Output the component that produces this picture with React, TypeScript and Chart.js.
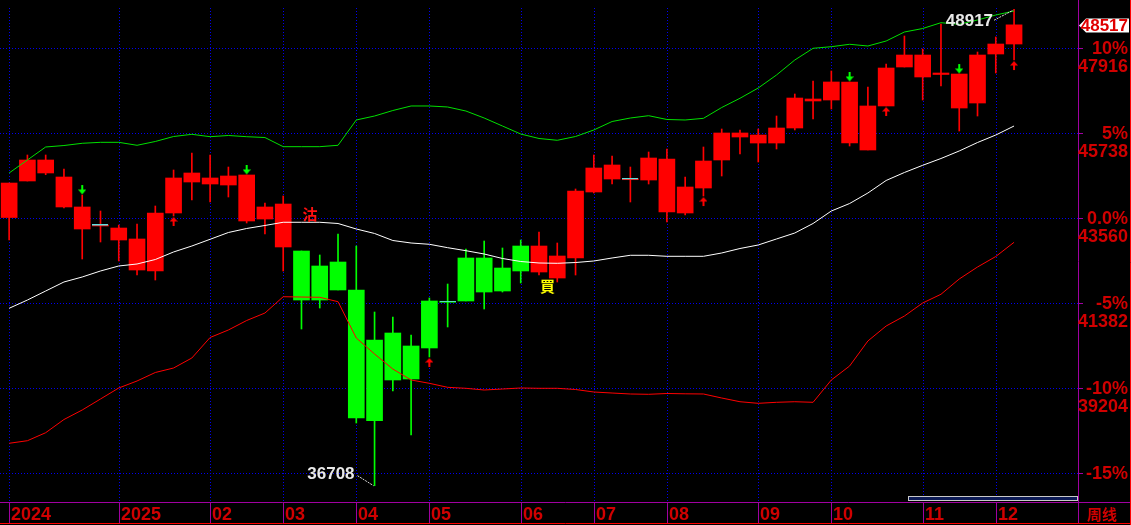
import React, { useEffect, useRef } from 'react';
import { Chart, registerables } from 'chart.js';

Chart.register(...registerables);

// ---- data (weekly candles) ----
const weeks = [
  '2024-11-18', '2024-11-25', '2024-12-02', '2024-12-09', '2024-12-16', '2024-12-23', '2024-12-30',
  '2025-01-06', '2025-01-13', '2025-01-20', '2025-01-27', '2025-02-03', '2025-02-10', '2025-02-17',
  '2025-02-24', '2025-03-03', '2025-03-10', '2025-03-17', '2025-03-24', '2025-03-31', '2025-04-07',
  '2025-04-14', '2025-04-21', '2025-04-28', '2025-05-05', '2025-05-12', '2025-05-19', '2025-05-26',
  '2025-06-02', '2025-06-09', '2025-06-16', '2025-06-23', '2025-06-30', '2025-07-07', '2025-07-14',
  '2025-07-21', '2025-07-28', '2025-08-04', '2025-08-11', '2025-08-18', '2025-08-25', '2025-09-01',
  '2025-09-08', '2025-09-15', '2025-09-22', '2025-09-29', '2025-10-06', '2025-10-13', '2025-10-20',
  '2025-10-27', '2025-11-03', '2025-11-10', '2025-11-17', '2025-11-24', '2025-12-01', '2025-12-08',
  '2025-12-15', '2025-12-22', '2025-12-29',
];

const opens = [
  43580, 44516, 44721, 43850, 43286, 43363, 43004, 42235, 42210, 43696,
  44490, 44439, 44413, 43491, 43542, 42825, 42722, 42338, 42440, 41723,
  40442, 40621, 40288, 41441, 41415, 42543, 42543, 42286, 42850, 42184,
  42030, 42543, 44234, 44567, 44549, 44541, 43721, 43696, 44336, 45054,
  45643, 45489, 45489, 45874, 46566, 46591, 45489, 45310, 46438, 47437,
  47181, 47245, 46386, 46514, 47770, 48026,
];
const highs = [
  44464, 45182, 45182, 44823, 44157, 43747, 43388, 43414, 43875, 44798,
  45233, 45182, 44874, 44670, 43952, 44131, 42722, 42620, 43158, 42850,
  41159, 41031, 40570, 41518, 41876, 42773, 42978, 42799, 43004, 43209,
  42927, 44311, 45182, 45156, 44874, 45259, 45336, 44618, 45387, 45848,
  45823, 45848, 46181, 46745, 47078, 47334, 47053, 46924, 47514, 48231,
  47898, 48539, 47257, 47821, 48206, 48917,
];
const lows = [
  43004, 44516, 44677, 43824, 42517, 42953, 42466, 42107, 41979, 43619,
  44029, 43978, 44106, 43440, 43158, 42210, 40723, 41261, 41723, 38315,
  36708, 39135, 38007, 40006, 40775, 41441, 41236, 41671, 41902, 42107,
  41928, 42107, 44208, 44439, 43978, 44439, 43465, 43645, 44131, 44644,
  45208, 45003, 45336, 45823, 46104, 46361, 45413, 45310, 46438, 47437,
  46591, 46950, 45797, 46181, 47283, 47616,
];
const closes = [
  44464, 45054, 45054, 44618, 43850, 43363, 43311, 43030, 43696, 44593,
  44721, 44593, 44644, 44670, 43850, 43926, 41466, 41466, 41723, 38443,
  38374, 39417, 39442, 40237, 41408, 41441, 41671, 41697, 42210, 42850,
  42594, 44259, 44849, 44926, 44549, 45105, 45080, 44362, 45028, 45746,
  45746, 45694, 45874, 46642, 46617, 47053, 47053, 46438, 47411, 47744,
  47744, 47283, 47257, 47744, 48026, 48517,
];

// Bollinger bands
const upperBand = [
  44721, 45054, 45387, 45425, 45482, 45507, 45507, 45431, 45528, 45656,
  45712, 45651, 45682, 45651, 45630, 45395, 45395, 45395, 45431, 46079,
  46181, 46322, 46438, 46438, 46412, 46309, 46130, 45925, 45720, 45605,
  45559, 45656, 45823, 46040, 46130, 46189, 46092, 46079, 46122, 46399,
  46635, 46899, 47232, 47616, 47916, 47957, 48019, 47975, 48103, 48334,
  48423, 48572, 48531, 48641, 48769, 48872,
];
const midBand = [
  41254, 41466, 41697, 41928, 42056, 42210, 42338, 42389, 42504, 42697,
  42850, 43022, 43196, 43299, 43376, 43458, 43458, 43458, 43427, 43286,
  43171, 42991, 42927, 42894, 42807, 42730, 42645, 42530, 42453, 42415,
  42407, 42427, 42466, 42543, 42612, 42612, 42586, 42586, 42586, 42671,
  42786, 42876, 43030, 43183, 43427, 43747, 43939, 44208, 44529, 44734,
  44918, 45092, 45285, 45502, 45694, 45925,
];
const lowerBand = [
  37795, 37861, 38066, 38404, 38648, 38930, 39212, 39391, 39609, 39724,
  39980, 40506, 40698, 40941, 41133, 41551, 41543, 41536, 41423, 40493,
  40083, 39698, 39417, 39332, 39229, 39204, 39160, 39186, 39212, 39204,
  39204, 39173, 39109, 39083, 39058, 39050, 39071, 39063, 39058, 38955,
  38860, 38819, 38845, 38860, 38845, 39417, 39775, 40416, 40800, 41056,
  41390, 41613, 42005, 42312, 42581, 42945,
];

// axis ticks
const monthTickWeeks = [0, 6, 11, 15, 19, 23, 28, 32, 36, 41, 45, 50, 54];
const monthTickLabels = ['2024', '2025', '02', '03', '04', '05', '06', '07', '08', '09', '10', '11', '12'];
const gridPrices = [47916, 45738, 43560, 41382, 39204, 37026];
const pctLabels = ['10%', '5%', '0.0%', '-5%', '-10%', '-15%'];
const priceLabels = ['47916', '45738', '43560', '41382', '39204', ''];
const yAxisMin = 36290.5;
const yAxisMax = 49153.7;

// signals
const sellArrowWeeks = [4, 13, 46, 52];
const buyArrowWeeks = [9, 23, 38, 48, 55];
const dojiWeeks = [5, 24, 34];
const lastPrice = 48517;
const periodHighWeek = 55;
const periodHighValue = 48917;
const periodLowWeek = 20;
const periodLowValue = 36708;
const signalTexts = ['沽', '買'];
const signalWeeks = [16, 29];
const signalPrices = [43670, 41812];
const signalColors = ['#ff1010', '#ffff00'];

const RED = '#ff0000';
const GREEN = '#00ff00';
const AXIS_RED = '#d00000';
const PURPLE = '#a000a0';

function makeArrow(color: string, up: boolean) {
  const c = document.createElement('canvas');
  c.width = 8;
  c.height = 22;
  const g = c.getContext('2d') as CanvasRenderingContext2D;
  g.fillStyle = color;
  if (up) {
    g.beginPath();
    g.moveTo(4, 12);
    g.lineTo(8, 16.5);
    g.lineTo(0, 16.5);
    g.closePath();
    g.fill();
    g.fillRect(3, 16, 2, 5);
  } else {
    g.fillRect(3, 1, 2, 5);
    g.beginPath();
    g.moveTo(0, 5.5);
    g.lineTo(8, 5.5);
    g.lineTo(4, 10.5);
    g.closePath();
    g.fill();
  }
  return c;
}

function makeDojiMark() {
  const c = document.createElement('canvas');
  c.width = 16;
  c.height = 3;
  const g = c.getContext('2d') as CanvasRenderingContext2D;
  g.fillStyle = '#60e0e0';
  g.fillRect(0, 0, 16, 1);
  return c;
}

const backdropPlugin = {
  id: 'backdrop',
  beforeDraw(chart: any) {
    const { ctx, width, height, chartArea } = chart;
    const x = chart.scales.x;
    const y = chart.scales.y;
    ctx.save();
    ctx.fillStyle = '#000000';
    ctx.fillRect(0, 0, width, height);
    ctx.strokeStyle = '#0000f0';
    ctx.lineWidth = 1;
    ctx.setLineDash([1, 2]);
    ctx.beginPath();
    gridPrices.forEach((p) => {
      const py = Math.round(y.getPixelForValue(p)) + 0.5;
      ctx.moveTo(chartArea.left, py);
      ctx.lineTo(chartArea.right, py);
    });
    monthTickWeeks.forEach((w) => {
      const px = Math.round(x.getPixelForValue(w)) + 0.5;
      ctx.moveTo(px, chartArea.top + 8);
      ctx.lineTo(px, chartArea.bottom);
    });
    ctx.stroke();
    ctx.restore();
  },
  afterDatasetsDraw(chart: any) {
    const { ctx } = chart;
    const x = chart.scales.x;
    const y = chart.scales.y;
    ctx.save();
    ctx.font = 'bold 15px "Noto Sans CJK TC"';
    ctx.textBaseline = 'middle';
    ctx.textAlign = 'left';
    signalTexts.forEach((t, i) => {
      ctx.fillStyle = signalColors[i];
      ctx.fillText(t, x.getPixelForValue(signalWeeks[i]) + 1, y.getPixelForValue(signalPrices[i]));
    });
    ctx.font = 'bold 17px "Liberation Sans"';
    ctx.fillStyle = '#e8e8e8';
    ctx.textAlign = 'right';
    const hx = x.getPixelForValue(periodHighWeek);
    const hy = y.getPixelForValue(periodHighValue);
    ctx.fillText(String(periodHighValue), hx - 21, hy + 12);
    const lx = x.getPixelForValue(periodLowWeek);
    const ly = y.getPixelForValue(periodLowValue);
    ctx.fillText(String(periodLowValue), lx - 20, ly - 11);
    ctx.strokeStyle = '#d8d8d8';
    ctx.lineWidth = 1;
    ctx.setLineDash([2, 1]);
    ctx.beginPath();
    ctx.moveTo(hx - 20, hy + 11);
    ctx.lineTo(hx - 1, hy + 1);
    ctx.moveTo(lx - 17, ly - 10);
    ctx.lineTo(lx - 1, ly);
    ctx.stroke();
    ctx.restore();
  },
  afterDraw(chart: any) {
    const { ctx, width, height, chartArea } = chart;
    const x = chart.scales.x;
    const y = chart.scales.y;
    const right = chartArea.right;
    const bottom = chartArea.bottom;
    ctx.save();
    ctx.setLineDash([]);
    ctx.lineWidth = 1;

    // scroll bar
    ctx.fillStyle = '#0c1a55';
    ctx.fillRect(908, bottom - 6, right - 908, 5);
    ctx.strokeStyle = '#c8c8c8';
    ctx.strokeRect(908.5, bottom - 5.5, right - 909, 4);

    // purple axes
    ctx.strokeStyle = PURPLE;
    ctx.beginPath();
    ctx.moveTo(right + 0.5, 0);
    ctx.lineTo(right + 0.5, height - 2);
    ctx.moveTo(0, bottom + 0.5);
    ctx.lineTo(width, bottom + 0.5);
    monthTickWeeks.forEach((w) => {
      const px = Math.round(x.getPixelForValue(w)) + 0.5;
      ctx.moveTo(px, bottom);
      ctx.lineTo(px, height - 2);
    });
    gridPrices.forEach((p) => {
      const py = Math.round(y.getPixelForValue(p)) + 0.5;
      ctx.moveTo(right, py);
      ctx.lineTo(right + 5, py);
    });
    ctx.stroke();

    // red frame
    ctx.strokeStyle = '#ff0000';
    ctx.beginPath();
    ctx.moveTo(0, height - 1.5);
    ctx.lineTo(width, height - 1.5);
    ctx.moveTo(width - 0.5, 0);
    ctx.lineTo(width - 0.5, height);
    ctx.stroke();

    // right axis labels
    ctx.fillStyle = AXIS_RED;
    ctx.font = 'bold 18px "Liberation Sans"';
    ctx.textAlign = 'right';
    ctx.textBaseline = 'middle';
    gridPrices.forEach((p, i) => {
      const py = y.getPixelForValue(p);
      ctx.fillText(pctLabels[i], width - 3, py + 1);
      if (priceLabels[i]) ctx.fillText(priceLabels[i], width - 3, py + 19);
    });

    // bottom axis labels
    ctx.textAlign = 'left';
    monthTickWeeks.forEach((w, i) => {
      const px = Math.round(x.getPixelForValue(w));
      ctx.fillText(monthTickLabels[i], px + 2, bottom + 13);
    });
    ctx.font = 'bold 15px "Noto Sans CJK SC"';
    ctx.fillText('周线', right + 9, bottom + 12);

    // last price box
    const cy = Math.round(y.getPixelForValue(lastPrice)) + 0.5;
    ctx.fillStyle = '#ffffff';
    ctx.beginPath();
    ctx.moveTo(right + 1, cy);
    ctx.lineTo(right + 8, cy - 7);
    ctx.lineTo(width - 2, cy - 7);
    ctx.lineTo(width - 2, cy + 7);
    ctx.lineTo(right + 8, cy + 7);
    ctx.closePath();
    ctx.fill();
    ctx.fillStyle = '#e00000';
    ctx.font = 'bold 17px "Liberation Sans"';
    ctx.textAlign = 'right';
    ctx.fillText(String(lastPrice), width - 3, cy + 1);
    ctx.restore();
  },
};

export default function App() {
  const canvasRef = useRef<HTMLCanvasElement | null>(null);

  useEffect(() => {
    document.body.style.margin = '0';
    document.body.style.background = '#000';
    const canvas = canvasRef.current;
    if (!canvas) return;

    const candleColors = opens.map((o, i) => (closes[i] < o ? GREEN : RED));
    const wickData = lows.map((l, i) => [l, highs[i]]);
    const bodyData = opens.map((o, i) => [o, closes[i]]);
    const sellData = highs.map((h, i) => (sellArrowWeeks.includes(i) ? h : null));
    const buyData = lows.map((l, i) => (buyArrowWeeks.includes(i) ? l : null));
    const dojiData = closes.map((c, i) => (dojiWeeks.includes(i) ? c : null));

    const lineBase = { type: 'line', borderWidth: 1, pointRadius: 0, tension: 0, order: 1 };

    const chart = new Chart(canvas, {
      type: 'bar',
      data: {
        labels: weeks,
        datasets: [
          { ...lineBase, label: 'upper', data: upperBand, borderColor: '#00e000' } as any,
          { ...lineBase, label: 'mid', data: midBand, borderColor: '#ffffff' } as any,
          { ...lineBase, label: 'lower', data: lowerBand, borderColor: '#ff0000' } as any,
          {
            type: 'line',
            label: 'sell',
            data: sellData,
            showLine: false,
            pointStyle: makeArrow(GREEN, false),
            pointRadius: 5,
            order: 0,
          } as any,
          {
            type: 'line',
            label: 'buy',
            data: buyData,
            showLine: false,
            pointStyle: makeArrow(RED, true),
            pointRadius: 5,
            order: 0,
          } as any,
          {
            type: 'line',
            label: 'doji',
            data: dojiData,
            showLine: false,
            pointStyle: makeDojiMark(),
            pointRadius: 5,
            order: 0,
          } as any,
          {
            type: 'bar',
            label: 'wick',
            data: wickData,
            backgroundColor: candleColors,
            barThickness: 1,
            grouped: false,
            borderWidth: 0,
            order: 3,
          } as any,
          {
            type: 'bar',
            label: 'body',
            data: bodyData,
            backgroundColor: candleColors,
            barThickness: 16,
            minBarLength: 1,
            grouped: false,
            borderWidth: 0,
            order: 2,
          } as any,
        ],
      },
      options: {
        responsive: false,
        animation: false,
        events: [],
        layout: { autoPadding: false, padding: { left: 0, right: 53, top: 0, bottom: 23 } },
        plugins: { legend: { display: false }, tooltip: { enabled: false } },
        scales: {
          x: { display: false, offset: true, grid: { display: false } },
          y: { display: false, min: yAxisMin, max: yAxisMax, grid: { display: false } },
        },
      } as any,
      plugins: [backdropPlugin],
    });

    return () => chart.destroy();
  }, []);

  return (
    <div style={{ position: 'absolute', left: 0, top: 0, width: 1131, height: 525, background: '#000' }}>
      <canvas ref={canvasRef} width={1131} height={525} style={{ display: 'block' }} />
    </div>
  );
}
